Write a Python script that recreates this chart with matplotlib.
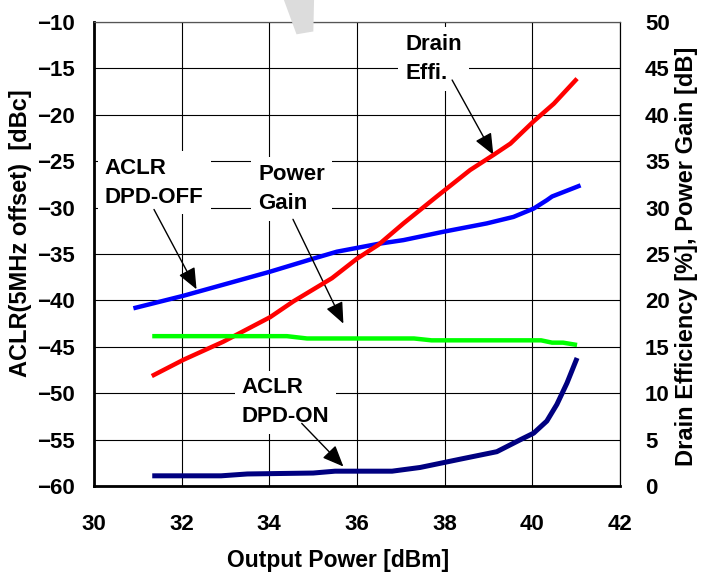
import matplotlib
matplotlib.use("Agg")
from matplotlib import pyplot as plt
from matplotlib.patches import Polygon

plt.rcParams['font.family'] = ['Liberation Sans', 'DejaVu Sans']
plt.rcParams['font.weight'] = 'bold'

# ACLR DPD-OFF (left axis, dBc)
off_x = [30.9, 32.04, 33.03, 34.02, 35.0, 35.54, 36.49, 37.06, 37.97, 38.96, 39.57, 40.03, 40.33, 40.45, 41.1]
off_y = [-40.85, -39.5, -38.2, -36.9, -35.5, -34.75, -33.9, -33.5, -32.6, -31.7, -31.0, -30.1, -29.2, -28.8, -27.6]

# ACLR DPD-ON (left axis, dBc)
on_x = [31.33, 32.9, 33.5, 35.0, 35.5, 36.8, 37.44, 38.36, 39.19, 39.73, 40.03, 40.33, 40.56, 40.79, 41.02]
on_y = [-58.9, -58.9, -58.7, -58.6, -58.4, -58.4, -58.0, -57.1, -56.3, -55.0, -54.3, -53.0, -51.2, -48.9, -46.2]

# Drain efficiency (right axis, %)
eff_x = [31.32, 32.04, 32.95, 34.02, 34.55, 35.43, 36.0, 36.49, 37.06, 37.82, 38.58, 39.12, 39.5, 40.03, 40.49, 41.02]
eff_y = [11.85, 13.6, 15.55, 18.2, 19.9, 22.4, 24.5, 26.0, 28.3, 31.2, 34.05, 35.7, 36.9, 39.3, 41.2, 43.9]

# Power gain (right axis, dB)
gain_x = [31.33, 34.4, 34.86, 37.3, 37.7, 40.2, 40.45, 40.7, 41.02]
gain_y = [16.15, 16.15, 15.9, 15.9, 15.7, 15.7, 15.45, 15.45, 15.2]

x_ticks = [30, 32, 34, 36, 38, 40, 42]
left_ticks = [-60, -55, -50, -45, -40, -35, -30, -25, -20, -15, -10]
right_ticks = [0, 5, 10, 15, 20, 25, 30, 35, 40, 45, 50]

fig = plt.figure(figsize=(7.01, 5.72), dpi=100)
ax = fig.add_axes([0.134, 0.1503, 0.7505, 0.8112])
ax2 = ax.twinx()

ax.plot(off_x, off_y, color='#0000ff', lw=3.2, solid_capstyle='butt', zorder=3)
ax.plot(on_x, on_y, color='#000080', lw=3.6, solid_capstyle='butt', zorder=3)
ax2.plot(eff_x, eff_y, color='#ff0000', lw=3.2, solid_capstyle='butt', zorder=3)
ax2.plot(gain_x, gain_y, color='#00ff00', lw=3.2, solid_capstyle='butt', zorder=3)

ax.set_xlim(30, 42)
ax.set_ylim(-60, -10)
ax2.set_ylim(0, 50)
ax.set_xticks(x_ticks)
ax.set_yticks(left_ticks)
ax2.set_yticks(right_ticks)
ax.grid(True, color='black', lw=0.8)
ax.set_axisbelow(True)

ax.tick_params(axis='x', length=0, pad=20, labelsize=16)
ax.tick_params(axis='y', length=0, pad=14, labelsize=16)
ax2.tick_params(axis='y', length=0, pad=18, labelsize=16)

ax.set_xlabel('Output Power [dBm]', fontsize=16.5, fontweight='bold')
ax.set_ylabel('ACLR(5MHz offset)  [dBc]', fontsize=17, fontweight='bold')
ax2.set_ylabel('Drain Efficiency [%], Power Gain [dB]', fontsize=17, fontweight='bold')
ax.xaxis.set_label_coords(0.464, -0.16)
ax.yaxis.set_label_coords(-0.14, 0.545)
ax2.yaxis.set_label_coords(1.127, 0.494)
ax.xaxis.label.set_va('center')
ax.yaxis.label.set_va('center')
ax2.yaxis.label.set_va('center')

for sp in ax.spines.values():
    sp.set_color('black')
ax.spines['bottom'].set_linewidth(2)
ax.spines['left'].set_linewidth(2)
ax2.spines['top'].set_color('#555555')

box = dict(facecolor='white', edgecolor='none', pad=5)
arrow = dict(arrowstyle='-|>,head_length=1.3,head_width=0.55', color='black', lw=1.0,
             shrinkA=0, shrinkB=0)

# labels with arrows (left axis data coords)
labels = [
    ('Drain\nEffi.', 38.17, -16.25, 39.11, -24.3, 37.1, -11.3),
    ('ACLR\nDPD-OFF', 31.37, -30.2, 32.34, -38.8, 30.25, -24.6),
    ('Power\nGain', 34.54, -31.26, 35.69, -42.5, 33.75, -25.3),
    ('ACLR\nDPD-ON', 34.74, -53.25, 35.69, -57.9, 33.37, -48.3),
]
for txt, tx, ty, hx, hy, lx, ly in labels:
    ax.text(lx, ly, txt, fontsize=16, fontweight='bold', ha='left', va='top',
            linespacing=1.5, bbox=box, zorder=4)
    ax.annotate('', xy=(hx, hy), xytext=(tx, ty), arrowprops=arrow, zorder=5)

# faint watermark fragment at the top
fig.patches.append(Polygon([[0.405, 1.0], [0.448, 1.0], [0.447, 0.945], [0.423, 0.94]],
                           closed=True, transform=fig.transFigure, facecolor='#dcdcdc',
                           edgecolor='none', zorder=0))

fig.savefig('out.png', dpi=100)
